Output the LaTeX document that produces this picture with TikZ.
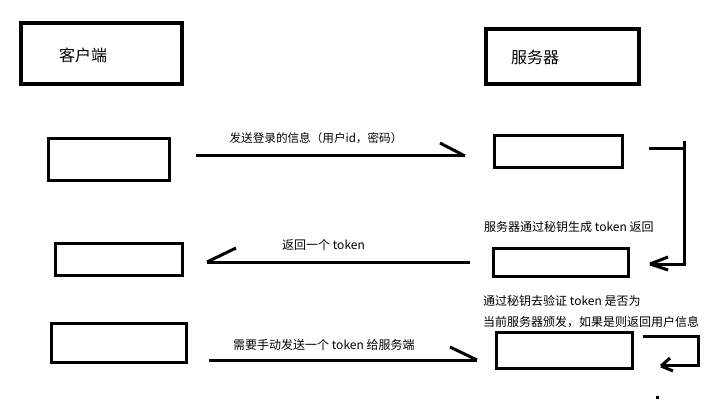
\documentclass[tikz,border=0pt]{standalone}
\usepackage{fontspec}
\setmainfont{Noto Sans CJK SC}
\usetikzlibrary{positioning}
\tikzset{
  headbox/.style={draw,line width=4pt,inner sep=0pt},
  stepbox/.style={draw,line width=3pt,inner sep=0pt},
  headtext/.style={font=\fontsize{16}{18}\selectfont,inner sep=0pt},
  msg/.style={font=\fontsize{12}{14}\selectfont,inner sep=0pt},
  flow/.style={line width=3pt},
}

\begin{document}
\begin{tikzpicture}[x=1pt,y=-1pt]
  \useasboundingbox (0,0) rectangle (728,406);
  % headers
  \node[headbox,minimum width=161pt,minimum height=61pt] (client) at (101.5,53.5) {};
  \node[headtext] (clientlbl) at (83,55) {客户端};
  \node[headbox,minimum width=153pt,minimum height=55pt] (server) at (562.5,56.5) {};
  \node[headtext] (serverlbl) at (535,57) {服务器};
  % client side boxes
  \node[stepbox,minimum width=121pt,minimum height=42pt] (c1) at (109,159.5) {};
  \node[stepbox,minimum width=127pt,minimum height=32pt] (c2) at (119,259.5) {};
  \node[stepbox,minimum width=135pt,minimum height=39pt] (c3) at (119,343) {};
  % server side boxes
  \node[stepbox,minimum width=128pt,minimum height=32pt] (s1) at (558.5,151.5) {};
  \node[stepbox,minimum width=135pt,minimum height=28pt] (s2) at (561,262.5) {};
  \node[stepbox,minimum width=136pt,minimum height=36pt] (s3) at (564.5,350.5) {};
  % arrow ends
  \coordinate (a1s) at (196,156);
  \coordinate (a1e) at (465,156);
  \coordinate (a2s) at (470,262);
  \coordinate (a2e) at (207,262);
  \coordinate (a3s) at (209,360);
  \coordinate (a3e) at (477,360);
  \coordinate (b1s) at (649,149);
  \coordinate (b1c) at (684,149);
  \coordinate (b1e) at (650,264);
  \coordinate (l1s) at (643,336);
  \coordinate (l1e) at (661,366);
  % login message
  \draw[flow] (a1s) -- (a1e);
  \draw[flow] (440,143) -- (a1e);
  \node[msg,font=\fontsize{11.6}{14}\selectfont] (m1) at (316,138) {发送登录的信息（用户id，密码）};
  % server issues token
  \draw[flow] (b1s) -- (b1c);
  \draw[flow] (684,141) -- (684,264) -- (b1e);
  \draw[flow] (b1e) -- ++(18,-7);
  \draw[flow] (b1e) -- ++(18,6);
  \node[msg,anchor=west] (m2) at (484,227) {服务器通过秘钥生成 token 返回};
  % token back
  \draw[flow] (a2s) -- (a2e);
  \draw[flow] (a2e) -- ++(29,-14);
  \node[msg,anchor=west] (m3) at (282,245) {返回一个 token};
  % request with token
  \draw[flow] (a3s) -- (a3e);
  \draw[flow] (450,347) -- (a3e);
  \node[msg,anchor=west] (m4) at (233,345) {需要手动发送一个 token 给服务端};
  % verify
  \node[msg,anchor=west] (m5) at (483,301) {通过秘钥去验证 token 是否为};
  \node[msg,anchor=west] (m6) at (483,322) {当前服务器颁发，如果是则返回用户信息};
  \draw[flow] (l1s) -- (698,336) -- (698,365) -- (664,365);
  \draw[flow] (l1e) -- ++(9,-8);
  \draw[flow] (l1e) -- ++(12,5);
  \fill (655.5,395.5) rectangle ++(3,3);
\end{tikzpicture}
\end{document}
